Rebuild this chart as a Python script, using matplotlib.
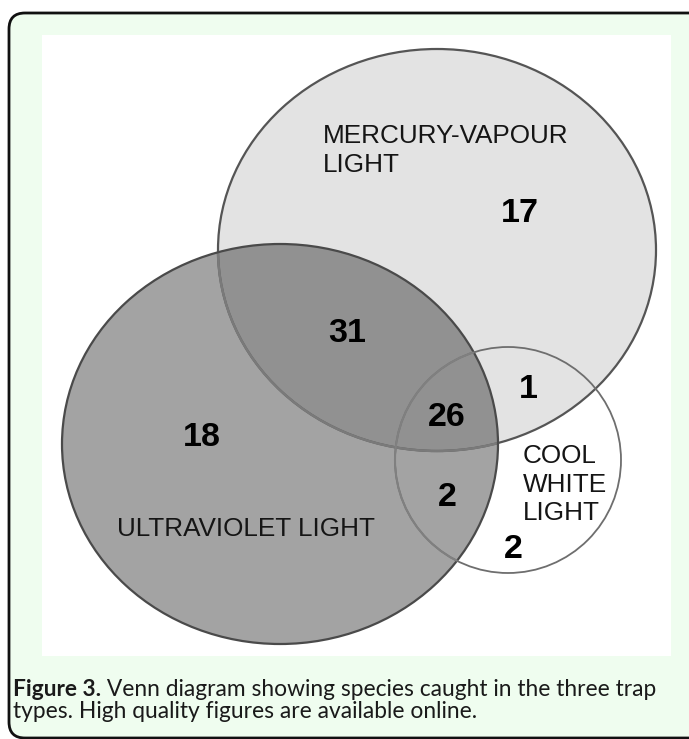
import matplotlib
matplotlib.use("Agg")
import matplotlib.pyplot as plt
from matplotlib.patches import Ellipse, FancyBboxPatch, Rectangle

# ---- data ----
set_names = ["MERCURY-VAPOUR\nLIGHT", "ULTRAVIOLET LIGHT", "COOL\nWHITE\nLIGHT"]
region_labels = ["MV only", "UV only", "CW only", "MV&UV", "MV&UV&CW", "MV&CW", "UV&CW"]
region_counts = [17, 18, 2, 31, 26, 1, 2]
caption_bold = "Figure 3."
caption_line1 = "Venn diagram showing species caught in the three trap"
caption_line2 = "types. High quality figures are available online."

# ---- geometry (pixel layout) ----
W, H = 689, 739
ell_centers = [(437, 250), (280, 444), (508, 460)]
ell_sizes = [(438, 402), (436, 400), (226, 226)]
count_pos = [(520, 213), (202, 437), (513, 550), (347, 333), (447, 417), (528, 390), (447, 498)]
name_pos = [(323, 143), (117, 536), (523, 463)]
name_step = [29, 0, 28.5]

fig = plt.figure(figsize=(W / 100, H / 100), dpi=100)
ax = fig.add_axes([0, 0, 1, 1])
ax.set_xlim(0, W)
ax.set_ylim(H, 0)
ax.axis("off")

# outer frame
frame = FancyBboxPatch((9, 13), 900, 725, boxstyle="round,pad=0,rounding_size=16",
                       facecolor="#effdef", edgecolor="#111111", linewidth=2.0, zorder=0)
ax.add_patch(frame)
ax.add_patch(Rectangle((42, 35), 629, 621, facecolor="white", edgecolor="none", zorder=1))

# fills
mv = Ellipse(ell_centers[0], *ell_sizes[0], facecolor="#e3e3e3", edgecolor="none", zorder=2)
ax.add_patch(mv)
uv = Ellipse(ell_centers[1], *ell_sizes[1], facecolor="black", alpha=0.36, edgecolor="none", zorder=3)
ax.add_patch(uv)

# edges
uv_clip = Ellipse(ell_centers[1], *ell_sizes[1], facecolor="none", edgecolor="none")
ax.add_patch(uv_clip)
ax.add_patch(Ellipse(ell_centers[0], *ell_sizes[0], facecolor="none", edgecolor="#555555", lw=1.6, zorder=4))
inner = Ellipse(ell_centers[0], *ell_sizes[0], facecolor="none", edgecolor="#7a7a7a", lw=1.8, zorder=5)
ax.add_patch(inner)
inner.set_clip_path(uv_clip)
ax.add_patch(Ellipse(ell_centers[1], *ell_sizes[1], facecolor="none", edgecolor="#4a4a4a", lw=1.6, zorder=6))
ax.add_patch(Ellipse(ell_centers[2], *ell_sizes[2], facecolor="none", edgecolor="#6e6e6e", lw=1.3, zorder=6))
inner_cw = Ellipse(ell_centers[2], *ell_sizes[2], facecolor="none", edgecolor="#808080", lw=1.5, zorder=7)
ax.add_patch(inner_cw)
inner_cw.set_clip_path(uv_clip)

lab_font = dict(family=["Liberation Sans", "DejaVu Sans"], fontsize=18.8, color="#151515", zorder=10)
for (x, y), step, name in zip(name_pos, name_step, set_names):
    for i, line in enumerate(name.split("\n")):
        ax.text(x, y + i * step, line, ha="left", va="baseline", **lab_font)

for (x, y), n in zip(count_pos, region_counts):
    ax.text(x, y, str(n), ha="center", va="center", fontsize=24.5, fontweight="bold",
            family=["Liberation Sans", "DejaVu Sans"], color="black", zorder=10)

# caption
cap_fam = ["Lato", "DejaVu Sans"]
fs = 15
fig.canvas.draw()
r = fig.canvas.get_renderer()
t_b = ax.text(13, 696, caption_bold, ha="left", va="baseline", fontsize=fs,
              fontweight="bold", family=cap_fam, color="#1a1a1a", zorder=10)
t_r = ax.text(0, 696, " " + caption_line1, ha="left", va="baseline", fontsize=fs,
              family=cap_fam, color="#1a1a1a", zorder=10)
wb = t_b.get_window_extent(r).width
wr = t_r.get_window_extent(r).width
scale = 645 / (wb + wr)
fs2 = fs * scale
t_b.set_fontsize(fs2)
t_r.set_fontsize(fs2)
wb = t_b.get_window_extent(r).width
t_r.set_x(13 + wb)
ax.text(13, 718, caption_line2, ha="left", va="baseline", fontsize=fs2,
        family=cap_fam, color="#1a1a1a", zorder=10)

fig.savefig("out.png", dpi=100)
